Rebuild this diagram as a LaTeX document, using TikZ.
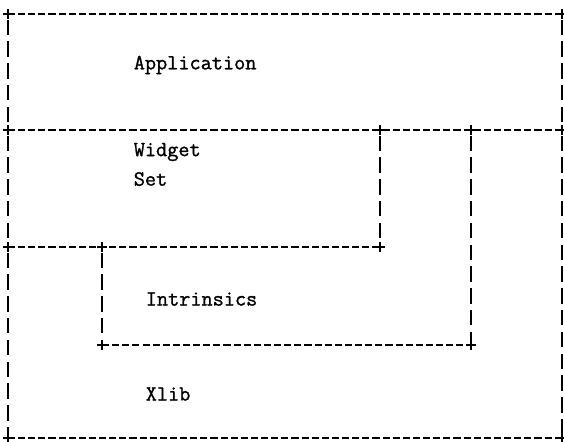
\documentclass[tikz,border=0pt]{standalone}
\usepackage{fontspec}
\newfontfamily\typefont{Latin Modern Mono}[FakeBold=1.2]
\usepackage{tikz}
\usetikzlibrary{positioning}

\begin{document}
\begin{tikzpicture}[x=0.025cm,y=-0.025cm,line width=1.1pt,
                    font=\typefont\fontsize{15.4}{18}\selectfont,
                    plusmark/.pic={\draw[solid,line width=1.1pt] (-5,0) -- (5,0) (0,-5) -- (0,5);}]

  \tikzstyle{hline} = [dash pattern=on 5pt off 2.2pt]
  \tikzstyle{vline} = [dash pattern=on 11pt off 4.5pt, shorten <=4pt, shorten >=3pt]
  \tikzstyle{layer} = [anchor=west, inner sep=0pt]

  \useasboundingbox (0,0) rectangle (564,441);

  % corners
  \coordinate (TL) at (8,14);
  \coordinate (TR) at (562,14);
  \coordinate (AL) at (8,130);
  \coordinate (AR) at (562,130);
  \coordinate (WR) at (380,130);
  \coordinate (IR) at (471,130);
  \coordinate (WL) at (8,247);
  \coordinate (IT) at (102,247);
  \coordinate (WB) at (380,247);
  \coordinate (IL) at (102,345);
  \coordinate (IB) at (471,345);
  \coordinate (BL) at (8,438);
  \coordinate (BR) at (562,438);

  % outer frame
  \draw[hline] (TL) -- (TR);
  \draw[hline] (AL) -- (AR);
  \draw[hline] (BL) -- (BR);
  \draw[vline] (TL) -- (AL);
  \draw[vline] (AL) -- (WL);
  \draw[vline] (WL) -- (BL);
  \draw[vline] (TR) -- (AR);
  \draw[vline] (AR) -- (BR);

  % widget set
  \draw[hline] (WL) -- (WB);
  \draw[vline] (WR) -- (WB);

  % intrinsics
  \draw[vline] (IT) -- (IL);
  \draw[hline] (IL) -- (IB);
  \draw[vline] (IR) -- (IB);

  \foreach \c in {TL,TR,AL,AR,WR,IR,WL,IT,WB,IL,IB,BL,BR}
    \pic at (\c) {plusmark};

  \node[layer] (app)  at (133,65)  {Application};
  \node[layer] (wid)  at (133,152) {Widget};
  \node[layer] (set)  at (133,179) {Set};
  \node[layer] (intr) at (145,299) {Intrinsics};
  \node[layer] (xlib) at (145,394) {Xlib};

\end{tikzpicture}
\end{document}
